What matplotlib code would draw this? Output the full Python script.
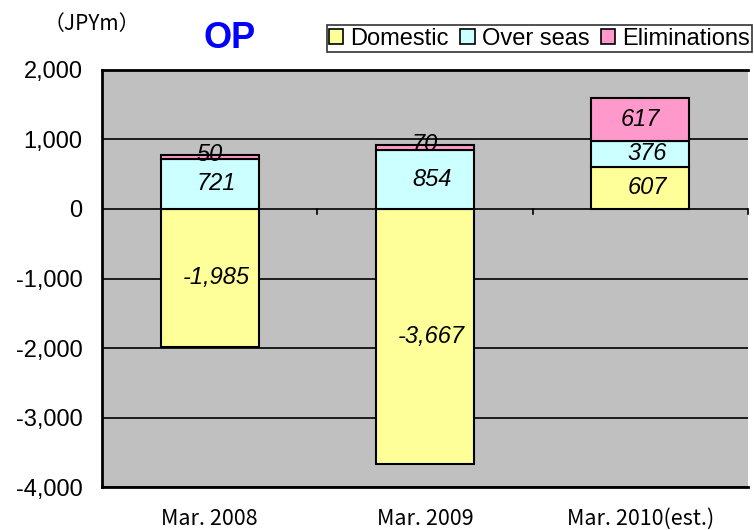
import matplotlib
matplotlib.use("Agg")
from matplotlib import pyplot as plt
from matplotlib import ticker
from matplotlib.patches import Patch
import numpy as np

# chart data
categories = ["Mar. 2008", "Mar. 2009", "Mar. 2010(est.)"]
domestic = [-1985, -3667, 607]
overseas = [721, 854, 376]
eliminations = [50, 70, 617]
seriesNames = ["Domestic", "Over seas", "Eliminations"]
seriesColors = ["#FFFF99", "#CCFFFF", "#FF99CC"]

plt.rcParams['font.family'] = ['Liberation Sans', 'DejaVu Sans']

fig = plt.figure(figsize=(7.54, 5.30), dpi=100)
ax = fig.add_axes([0.1353, 0.081, 0.857, 0.787])
ax.set_facecolor("#C0C0C0")

x = np.arange(len(categories))
width = 0.455

dom = np.array(domestic)
ovs = np.array(overseas)
eli = np.array(eliminations)
ovsBottom = np.maximum(dom, 0)
eliBottom = ovsBottom + ovs

ax.bar(x, dom, width, color=seriesColors[0], edgecolor="black", linewidth=1.5, zorder=3)
ax.bar(x, ovs, width, bottom=ovsBottom, color=seriesColors[1], edgecolor="black", linewidth=1.5, zorder=3)
ax.bar(x, eli, width, bottom=eliBottom, color=seriesColors[2], edgecolor="black", linewidth=1.5, zorder=3)

# value labels
lblFont = dict(fontsize=17, style="italic", ha="center", va="center", zorder=5)
for i in range(len(categories)):
    ax.text(x[i] + 0.03, dom[i] / 2, "{:,}".format(dom[i]), **lblFont)
    ax.text(x[i] + 0.03, ovsBottom[i] + ovs[i] / 2, "{:,}".format(ovs[i]), **lblFont)
    if eli[i] < 200:
        ax.text(x[i], eliBottom[i] + eli[i] + 10, "{:,}".format(eli[i]), **lblFont)
    else:
        ax.text(x[i], eliBottom[i] + eli[i] / 2, "{:,}".format(eli[i]), **lblFont)

##--Axes formatting--##
ax.set_xlim(-0.5, 2.5)
ax.set_ylim(-4000, 2000)
ax.yaxis.set_major_locator(ticker.MultipleLocator(1000))
ax.yaxis.set_major_formatter(ticker.FuncFormatter(lambda v, p: "{:,}".format(int(v))))
ax.tick_params(axis="y", length=0, labelsize=17, pad=14)
ax.grid(axis="y", color="black", linewidth=1.2, zorder=1)
ax.set_axisbelow(True)

ax.set_xticks(x)
ax.set_xticklabels(categories, family=['Noto Sans CJK JP', 'DejaVu Sans'], fontsize=15.5)
ax.tick_params(axis="x", length=0, pad=15)

# category tick marks on the zero line
for b in [0.5, 1.5, 2.5]:
    ax.plot([b, b], [0, -70], color="black", linewidth=1.2, zorder=2, clip_on=False)

for s in ["top", "left", "bottom"]:
    ax.spines[s].set_linewidth(2)
ax.spines["right"].set_visible(False)

# title and unit
fig.text(0.305, 0.928, "OP", color="#0000FF", fontsize=26, fontweight="bold", ha="center", va="center")
fig.text(0.122, 0.955, "（JPYm）", family=['Noto Sans CJK JP', 'DejaVu Sans'], fontsize=15, ha="center", va="center")

handles = [Patch(facecolor=c, edgecolor="black", linewidth=1.2) for c in seriesColors]
leg = fig.legend(handles, seriesNames, loc="upper right", bbox_to_anchor=(0.998, 0.952), ncol=3,
                 fontsize=17, frameon=True, fancybox=False, edgecolor="black", handlelength=0.6,
                 handleheight=0.6, handletextpad=0.3, columnspacing=0.5, borderpad=0.1, borderaxespad=0)
leg.get_frame().set_linewidth(1.2)

fig.savefig("out.png", dpi=100)
